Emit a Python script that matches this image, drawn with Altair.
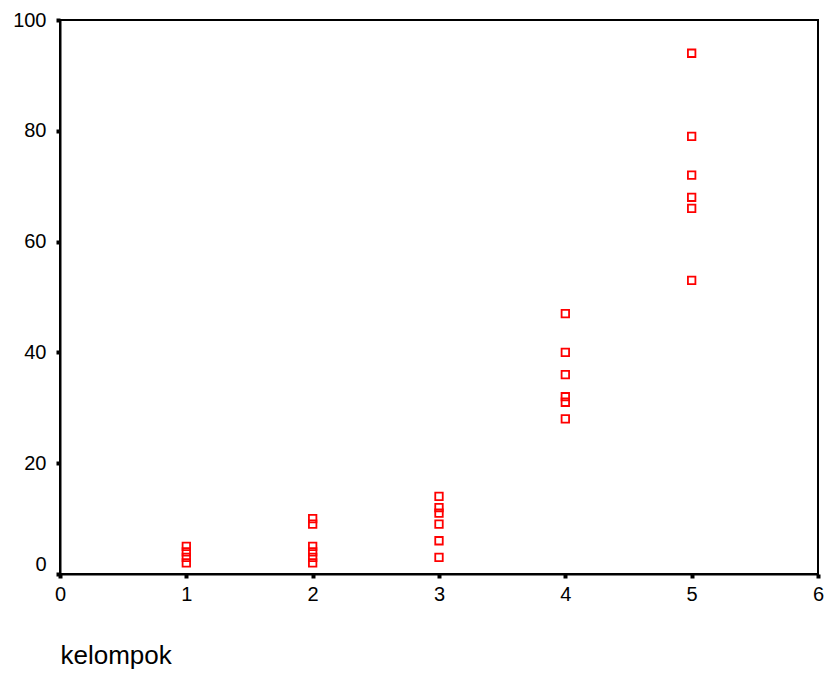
import altair as alt
import pandas as pd

# data
kelompok = [1]*4 + [2]*6 + [3]*6 + [4]*6 + [5]*6
values = [5, 4, 3, 2,
          10, 9, 5, 4, 3, 2,
          14, 12, 11, 9, 6, 3,
          47, 40, 36, 32, 31, 28,
          94, 79, 72, 68, 66, 53]
x_ticks = [0, 1, 2, 3, 4, 5, 6]
y_ticks = [0, 20, 40, 60, 80, 100]

df = pd.DataFrame({"kelompok": kelompok, "nilai": values})

FONT = "Liberation Sans"

chart = alt.Chart(df).mark_point(
    shape="square", filled=False, color="#ff0000", size=56, strokeWidth=1.8, opacity=1
).encode(
    x=alt.X("kelompok:Q",
            scale=alt.Scale(domain=[0, 6], nice=False, zero=False),
            axis=alt.Axis(values=x_ticks, format="d", title="kelompok",
                          titleAnchor="start", titleAlign="left", titleFontWeight="normal",
                          titleFontSize=26, titleFont=FONT, titleColor="black",
                          titlePadding=38, grid=False,
                          labelFontSize=20, labelFont=FONT, labelColor="black",
                          labelPadding=6, tickSize=4, tickWidth=4, tickColor="black",
                          domainColor="black", domainWidth=2, labelFlush=False)),
    y=alt.Y("nilai:Q",
            scale=alt.Scale(domain=[0, 100], nice=False),
            axis=alt.Axis(values=y_ticks, format="d", title=None, grid=False,
                          labelFontSize=20, labelFont=FONT, labelColor="black",
                          labelPadding=10, tickSize=4, tickWidth=4, tickColor="black",
                          domainColor="black", domainWidth=2, labelFlush=False,
                          labelBaseline={"condition": {"test": "datum.value == 0", "value": "bottom"},
                                         "value": "middle"})),
).properties(
    width=758, height=554,
    padding={"left": 52, "top": 12, "right": 8, "bottom": 95},
    autosize=alt.AutoSizeParams(type="none"),
    background="white",
).configure_view(
    stroke="black", strokeWidth=2
)

chart.save("out.html", embed_options={"renderer": "svg", "actions": False})
